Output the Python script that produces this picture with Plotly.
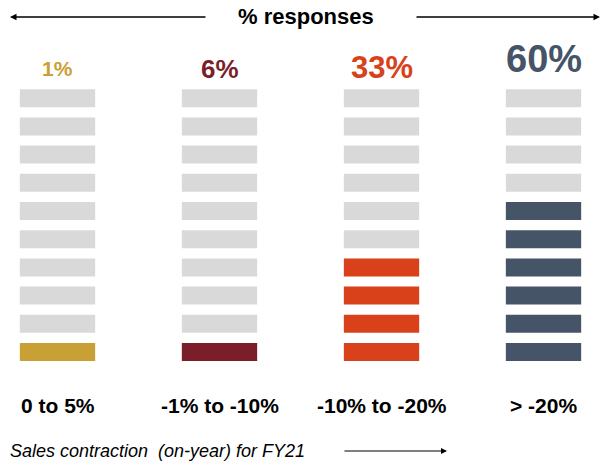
import math
import plotly.graph_objects as go

# Survey results: share of responses per sales-contraction bucket
categories = ["0 to 5%", "-1% to -10%", "-10% to -20%", "> -20%"]
pct_responses = [1, 6, 33, 60]
colors = ["#C9A035", "#7B1E2A", "#D9411A", "#465468"]
label_sizes = [21, 26, 31, 38]
label_rows = [10.05, 10.05, 10.1, 10.4]

N_ROWS = 10          # each row stands for 10% of responses
EMPTY = "#D9D9D9"
FONT = "Liberation Sans, Arial, sans-serif"

xs, bases, cols = [], [], []
for i, p in enumerate(pct_responses):
    filled = math.ceil(p / 10)
    for k in range(N_ROWS):
        xs.append(i)
        bases.append(k - 0.32)
        cols.append(colors[i] if k < filled else EMPTY)

fig = go.Figure(go.Bar(
    x=xs, y=[0.64] * len(xs), base=bases,
    width=0.465, marker=dict(color=cols, line=dict(width=0)),
    hoverinfo="skip",
))

# percentage headline above each column
for i, p in enumerate(pct_responses):
    fig.add_annotation(x=i, y=label_rows[i], text=f"<b>{p}%</b>", showarrow=False,
                       yanchor="middle", font=dict(size=label_sizes[i], color=colors[i], family=FONT))
# bucket labels below each column
for i, c in enumerate(categories):
    fig.add_annotation(x=i, y=-1.88, text=f"<b>{c}</b>", showarrow=False, yanchor="middle",
                       font=dict(size=21, color="#000000", family=FONT))

# header with arrows on both sides
fig.add_annotation(xref="paper", yref="paper", x=306 / 608, y=1 - 17 / 466, text="<b>% responses</b>",
                   showarrow=False, yanchor="middle", font=dict(size=22, color="#000000", family=FONT))
for head, tail in [(10, 207), (600, 415)]:
    fig.add_annotation(xref="paper", yref="paper", x=head / 608, y=1 - 17 / 466, text="",
                       showarrow=True, axref="pixel", ayref="pixel", ax=tail - head, ay=0,
                       arrowhead=2, arrowsize=1, arrowwidth=1.3, arrowcolor="#000000")

# footer caption with direction arrow
fig.add_annotation(xref="paper", yref="paper", x=8 / 608, y=1 - 451 / 466, xanchor="left", yanchor="middle",
                   text="<i>Sales contraction  (on-year) for FY21</i>", showarrow=False,
                   font=dict(size=18, color="#000000", family=FONT))
fig.add_annotation(xref="paper", yref="paper", x=447 / 608, y=1 - 451 / 466, text="",
                   showarrow=True, axref="pixel", ayref="pixel", ax=-104, ay=0,
                   arrowhead=2, arrowsize=1, arrowwidth=1.2, arrowcolor="#000000")

fig.update_layout(
    width=608, height=466,
    margin=dict(l=0, r=0, t=0, b=0),
    paper_bgcolor="#FFFFFF", plot_bgcolor="#FFFFFF",
    showlegend=False, barmode="overlay",
    xaxis=dict(range=[-57.5 / 162, (608 - 57.5) / 162], visible=False, fixedrange=True),
    yaxis=dict(range=[-(466 - 352) / 28.2, 352 / 28.2], visible=False, fixedrange=True),
)

fig.write_html("out.html")
